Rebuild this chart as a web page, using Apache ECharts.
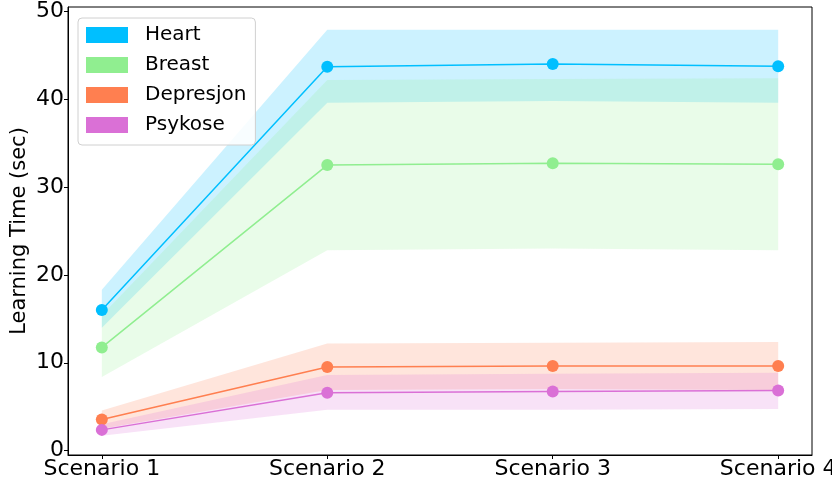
<!DOCTYPE html>
<html>
<head>
<meta charset="utf-8">
<script src="https://cdn.jsdelivr.net/npm/echarts@6/dist/echarts.min.js"></script>
<style>
  html, body { margin: 0; padding: 0; background: #fff; }
  #chart { width: 832px; height: 485px; }
</style>
</head>
<body>
<div id="chart"></div>
<script>
// Scenario names along the x axis
const scenarios = ['Scenario 1', 'Scenario 2', 'Scenario 3', 'Scenario 4'];
const yTicks = [0, 10, 20, 30, 40, 50];

// Mean learning time (sec) per dataset
const heartMean = [16.0, 43.7, 44.0, 43.75];
const breastMean = [11.75, 32.5, 32.7, 32.6];
const depresjonMean = [3.54, 9.51, 9.63, 9.63];
const psykoseMean = [2.36, 6.58, 6.73, 6.85];

// Lower / upper edge of the shaded spread
const heartLow = [14.0, 39.6, 39.8, 39.6];
const heartHigh = [18.3, 47.9, 47.9, 47.9];
const breastLow = [8.37, 22.8, 23.0, 22.8];
const breastHigh = [15.4, 42.2, 42.3, 42.4];
const depresjonLow = [2.5, 6.9, 7.0, 6.9];
const depresjonHigh = [4.57, 12.18, 12.29, 12.36];
const psykoseLow = [1.7, 4.64, 4.64, 4.75];
const psykoseHigh = [3.0, 8.6, 8.75, 8.86];

const groups = [
  { name: 'Heart', color: '#00BFFF', band: 'rgba(0,191,255,0.2)', mean: heartMean, low: heartLow, high: heartHigh },
  { name: 'Breast', color: '#90EE90', band: 'rgba(144,238,144,0.2)', mean: breastMean, low: breastLow, high: breastHigh },
  { name: 'Depresjon', color: '#FF7F50', band: 'rgba(255,127,80,0.2)', mean: depresjonMean, low: depresjonLow, high: depresjonHigh },
  { name: 'Psykose', color: '#DA70D6', band: 'rgba(218,112,214,0.2)', mean: psykoseMean, low: psykoseLow, high: psykoseHigh }
];

const pairs = arr => arr.map((v, i) => [i, v]);

const series = [];
// shaded spreads: one polygon per dataset, traced along the upper edge and back along the lower edge
groups.forEach(g => {
  series.push({
    type: 'custom', name: g.name + '_band', silent: true, z: 1,
    data: g.low.map((lo, i) => [i, lo, g.high[i]]),
    encode: { x: 0, y: [1, 2] },
    renderItem: (params, api) => {
      if (params.dataIndex !== 0) return null;
      const upper = g.high.map((h, i) => api.coord([i, h]));
      const lower = g.low.map((l, i) => api.coord([i, l])).reverse();
      return {
        type: 'polygon',
        shape: { points: upper.concat(lower) },
        style: { fill: g.band }
      };
    }
  });
});
// mean lines with markers on top
groups.forEach(g => {
  series.push({
    type: 'line', name: g.name, data: pairs(g.mean),
    color: g.color, symbol: 'circle', symbolSize: 12,
    lineStyle: { width: 1.5, color: g.color },
    itemStyle: { color: g.color }, z: 3
  });
});

const font = 'DejaVu Sans';
const chart = echarts.init(document.getElementById('chart'), null, { renderer: 'canvas' });
chart.setOption({
  animation: false,
  backgroundColor: '#fff',
  grid: {
    left: 68, right: 20, top: 7, bottom: 30,
    outerBoundsMode: 'none', containLabel: false,
    show: true, borderColor: '#000', borderWidth: 1, backgroundColor: 'transparent'
  },
  legend: {
    data: groups.map(g => g.name),
    orient: 'vertical', left: 78, top: 18,
    icon: 'rect', itemWidth: 42, itemHeight: 16, itemGap: 10,
    padding: [7, 9, 10, 8],
    backgroundColor: 'rgba(255,255,255,0.85)',
    borderColor: '#d0d0d0', borderWidth: 1, borderRadius: 4,
    textStyle: { fontFamily: font, fontSize: 20, color: '#000', lineHeight: 20, padding: [0, 0, 0, 12] }
  },
  xAxis: {
    type: 'value', min: -0.15, max: 3.15,
    splitLine: { show: false },
    axisLine: { show: true, onZero: false, lineStyle: { color: '#000', width: 1 } },
    axisTick: { show: true, length: 4, lineStyle: { color: '#000' }, customValues: scenarios.map((s, i) => i) },
    axisLabel: {
      customValues: scenarios.map((s, i) => i),
      formatter: v => scenarios[Math.round(v)] || '',
      fontFamily: font, fontSize: 22, color: '#000', margin: 3
    }
  },
  yAxis: {
    type: 'value', min: -0.5, max: 50.5,
    name: 'Learning Time (sec)', nameLocation: 'middle', nameGap: 38,
    nameMoveOverlap: false,
    nameTextStyle: { fontFamily: font, fontSize: 21, color: '#000' },
    splitLine: { show: false },
    axisLine: { show: true, onZero: false, lineStyle: { color: '#000', width: 1 } },
    axisTick: { show: true, length: 4, lineStyle: { color: '#000' }, customValues: yTicks },
    axisLabel: {
      customValues: yTicks,
      fontFamily: font, fontSize: 22, color: '#000', margin: 4
    }
  },
  series: series
});
</script>
</body>
</html>
